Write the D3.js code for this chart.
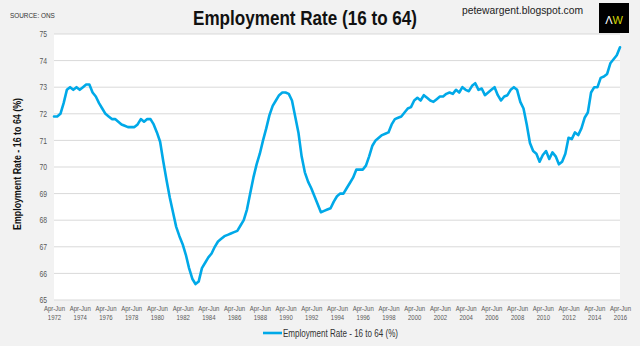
<!DOCTYPE html>
<html>
<head>
<meta charset="utf-8">
<script src="https://cdn.jsdelivr.net/npm/d3@7"></script>
<style>
  html, body { margin: 0; padding: 0; background: #f2f2f2; }
  svg { display: block; }
  text { font-family: 'Liberation Sans', Arial, sans-serif; }
</style>
</head>
<body>
<script>
// Quarterly employment rate 16-64 (%), Apr-Jun 1972 .. Apr-Jun 2016
const startYear = 1972;
const values = [
  71.9, 71.9, 72.0, 72.4,      // 1972
  72.9, 73.0, 72.9, 73.0,      // 1973
  72.9, 73.0, 73.1, 73.1,      // 1974
  72.8, 72.65, 72.4, 72.2,     // 1975
  72.0, 71.9, 71.8, 71.8,      // 1976
  71.7, 71.6, 71.55, 71.5,     // 1977
  71.5, 71.5, 71.6, 71.8,      // 1978
  71.7, 71.8, 71.8, 71.6,      // 1979
  71.3, 70.95, 70.2, 69.5,     // 1980
  68.85, 68.3, 67.75, 67.4,    // 1981
  67.1, 66.7, 66.2, 65.8,      // 1982
  65.6, 65.7, 66.2, 66.4,      // 1983
  66.6, 66.75, 67.0, 67.2,     // 1984
  67.3, 67.4, 67.45, 67.5,     // 1985
  67.55, 67.6, 67.8, 68.0,     // 1986
  68.4, 69.0, 69.6, 70.1,      // 1987
  70.5, 71.0, 71.45, 71.95,    // 1988
  72.3, 72.5, 72.7, 72.8,      // 1989
  72.8, 72.75, 72.5, 71.9,     // 1990
  71.3, 70.4, 69.8, 69.45,     // 1991
  69.2, 68.9, 68.6, 68.3,      // 1992
  68.35, 68.4, 68.45, 68.7,    // 1993
  68.9, 69.0, 69.0, 69.2,      // 1994
  69.4, 69.6, 69.9, 69.9,      // 1995
  69.9, 70.05, 70.4, 70.8,     // 1996
  71.0, 71.1, 71.2, 71.25,     // 1997
  71.3, 71.6, 71.8, 71.85,     // 1998
  71.9, 72.05, 72.2, 72.25,    // 1999
  72.5, 72.6, 72.5, 72.7,      // 2000
  72.6, 72.5, 72.45, 72.55,    // 2001
  72.65, 72.65, 72.75, 72.8,   // 2002
  72.75, 72.9, 72.8, 73.0,     // 2003
  72.9, 72.85, 73.05, 73.15,   // 2004
  72.9, 72.95, 72.7, 72.8,     // 2005
  72.9, 73.0, 72.7, 72.5,      // 2006
  72.65, 72.7, 72.9, 73.0,     // 2007
  72.9, 72.45, 72.2, 71.6,     // 2008
  70.9, 70.6, 70.5, 70.2,      // 2009
  70.45, 70.6, 70.3, 70.55,    // 2010
  70.4, 70.1, 70.2, 70.5,      // 2011
  71.1, 71.05, 71.3, 71.2,     // 2012
  71.45, 71.85, 72.05, 72.8,   // 2013
  73.0, 73.0, 73.35, 73.4,     // 2014
  73.5, 73.9, 74.05, 74.2,     // 2015
  74.5                         // 2016
];
const yTicks = [65, 66, 67, 68, 69, 70, 71, 72, 73, 74, 75];
const xTickYears = d3.range(1972, 2017, 2);
const xTickIndex = xTickYears.map(y => (y - startYear) * 4);
const xTickPrefix = "Apr-Jun";
const title = "Employment Rate (16 to 64)";
const yTitle = "Employment Rate - 16 to 64 (%)";
const seriesName = "Employment Rate - 16 to 64 (%)";
const source = "SOURCE: ONS";
const site = "petewargent.blogspot.com";

const W = 640, H = 346;
const plot = { left: 54, right: 620, top: 34, bottom: 300 };
const NARROW = 0.8;

// condense a text selection horizontally (emulates a narrow font)
function condense(sel, factor) {
  sel.each(function() {
    const len = this.getComputedTextLength();
    d3.select(this).attr("textLength", len * factor).attr("lengthAdjust", "spacingAndGlyphs");
  });
}

const svg = d3.select("body").append("svg").attr("width", W).attr("height", H);
svg.append("rect").attr("width", W).attr("height", H).attr("fill", "#f2f2f2");

const x = d3.scaleLinear().domain([0, values.length - 1]).range([plot.left, plot.right]);
const y = d3.scaleLinear().domain([65, 75]).range([plot.bottom, plot.top]);

// plot background
svg.append("rect").attr("x", plot.left).attr("y", plot.top)
  .attr("width", plot.right - plot.left).attr("height", plot.bottom - plot.top)
  .attr("fill", "#ffffff");

// gridlines
svg.append("g").selectAll("line").data(yTicks).join("line")
  .attr("x1", plot.left).attr("x2", plot.right)
  .attr("y1", d => y(d)).attr("y2", d => y(d))
  .attr("stroke", "#d9d9d9").attr("stroke-width", 1);

// y axis labels
const yAxis = d3.axisLeft(y).tickValues(yTicks).tickSize(0).tickPadding(7).tickFormat(d3.format("d"));
const gy = svg.append("g").attr("transform", `translate(${plot.left},0)`).call(yAxis);
gy.select(".domain").remove();
gy.selectAll("text").attr("font-size", 8.5).attr("fill", "#595959")
  .style("font-family", "'Liberation Sans', Arial, sans-serif");
condense(gy.selectAll("text"), NARROW);

// x axis labels (two lines)
const xAxis = d3.axisBottom(x).tickValues(xTickIndex).tickSize(0).tickFormat(() => "");
const gx = svg.append("g").attr("transform", `translate(0,${plot.bottom})`).call(xAxis);
gx.select(".domain").remove();
gx.selectAll(".tick text").remove();
gx.selectAll(".tick").each(function(d, i) {
  const g = d3.select(this);
  g.append("text").attr("x", 0).attr("y", 11).attr("text-anchor", "middle")
    .attr("font-size", 7.5).attr("fill", "#595959").text(xTickPrefix);
  g.append("text").attr("x", 0).attr("y", 20).attr("text-anchor", "middle")
    .attr("font-size", 7.5).attr("fill", "#595959").text(xTickYears[i]);
});
condense(gx.selectAll(".tick text"), 0.8);

// line
const line = d3.line().x((d, i) => x(i)).y(d => y(d)).curve(d3.curveLinear);
svg.append("path").datum(values).attr("d", line)
  .attr("fill", "none").attr("stroke", "#00a9e8").attr("stroke-width", 2.6)
  .attr("stroke-linejoin", "round").attr("stroke-linecap", "round");

// title
const tt = svg.append("text").attr("x", 305).attr("y", 25).attr("text-anchor", "middle")
  .attr("font-size", 21).attr("font-weight", "bold").attr("fill", "#111").text(title);
tt.attr("textLength", 224).attr("lengthAdjust", "spacingAndGlyphs");

const st = svg.append("text").attr("x", 10).attr("y", 18).attr("font-size", 8).attr("fill", "#333").text(source);
condense(st, NARROW);
svg.append("text").attr("x", 462).attr("y", 14).attr("font-size", 11).attr("fill", "#222").text(site)
  .attr("textLength", 121).attr("lengthAdjust", "spacingAndGlyphs");

// logo
svg.append("rect").attr("x", 599).attr("y", 3).attr("width", 30).attr("height", 30).attr("fill", "#000");
const logo = svg.append("text").attr("x", 614).attr("y", 24).attr("text-anchor", "middle")
  .attr("font-size", 11);
logo.append("tspan").attr("fill", "#ffffff").text("Λ");
logo.append("tspan").attr("fill", "#d4d800").text("W");

// y title
svg.append("text").attr("transform", `translate(21,${(plot.top + plot.bottom) / 2 - 3}) rotate(-90)`)
  .attr("text-anchor", "middle").attr("font-size", 11).attr("font-weight", "bold").attr("fill", "#111")
  .text(yTitle).attr("textLength", 132).attr("lengthAdjust", "spacingAndGlyphs");

// legend
const lg = svg.append("g");
lg.append("line").attr("x1", 263).attr("x2", 282).attr("y1", 333).attr("y2", 333)
  .attr("stroke", "#00a9e8").attr("stroke-width", 2.6);
lg.append("text").attr("x", 283).attr("y", 337).attr("font-size", 11).attr("fill", "#333").text(seriesName)
  .attr("textLength", 115).attr("lengthAdjust", "spacingAndGlyphs");
</script>
</body>
</html>
